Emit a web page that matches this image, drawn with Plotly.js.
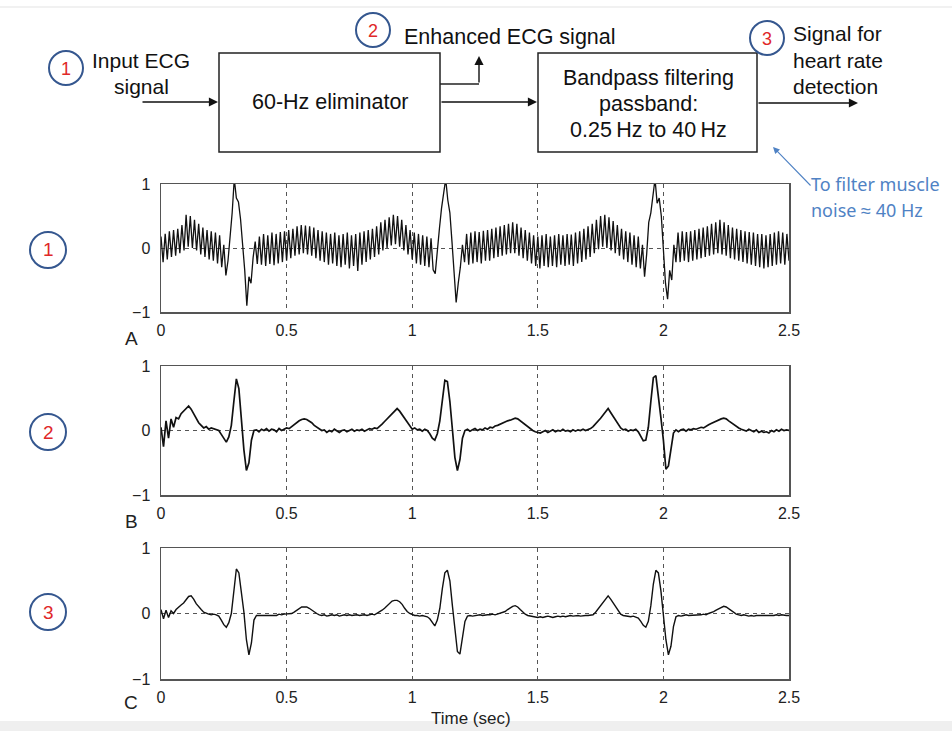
<!DOCTYPE html>
<html><head><meta charset="utf-8">
<script src="https://cdn.plot.ly/plotly-3.0.1.min.js"></script>
<style>html,body{margin:0;padding:0;background:#fff;} #chart{width:952px;height:731px;}</style>
</head><body><div id="chart"></div>
<script>
// ---- tick labels ----
const xTickVals = [0, 0.5, 1, 1.5, 2, 2.5];
const xTickText = ["0", "0.5", "1", "1.5", "2", "2.5"];
const yTickVals = [-1, 0, 1];
const yTickText = ["\u22121", "0", "1"];
const panelLetters = ["A", "B", "C"];
const circleNumbers = ["1", "2", "3"];

// ---- sample periods (sec) ----
const dtA = 1 / 120;
const dtB = 0.01;
const dtC = 0.01;

// ---- A: input ECG signal (with 60 Hz interference) ----
const yA = [
 0.18,-0.22,0.22,-0.18,0.26,-0.14,0.28,-0.12,0.30,-0.08,0.36,-0.04,
 0.52,0.02,0.50,0.00,0.44,-0.04,0.38,-0.10,0.32,-0.14,0.28,-0.18,
 0.26,-0.20,0.24,-0.24,0.20,-0.30,0.05,-0.43,-0.20,0.15,0.55,1.08,
 0.78,0.72,0.45,0.05,-0.35,-0.90,-0.45,-0.55,-0.15,0.10,-0.25,0.18,
 -0.26,0.22,-0.28,0.20,-0.25,0.24,-0.27,0.22,-0.24,0.25,-0.22,0.26,
 -0.20,0.28,-0.16,0.30,-0.12,0.34,-0.10,0.36,-0.08,0.35,-0.10,0.34,
 -0.12,0.32,-0.16,0.28,-0.20,0.26,-0.22,0.24,-0.26,0.22,-0.24,0.24,
 -0.28,0.20,-0.30,0.22,-0.26,0.24,-0.32,0.20,-0.28,0.22,-0.36,0.24,
 -0.26,0.26,-0.22,0.28,-0.18,0.30,-0.14,0.34,-0.10,0.40,-0.04,0.44,
 0.00,0.48,0.04,0.52,0.06,0.50,0.02,0.44,-0.04,0.36,-0.10,0.28,
 -0.18,0.24,-0.24,0.22,-0.26,0.20,-0.28,0.18,-0.30,0.15,-0.34,-0.40,
 -0.10,0.30,0.62,0.85,1.08,0.75,0.55,0.10,-0.35,-0.85,-0.55,-0.30,
 0.05,-0.22,0.22,-0.26,0.24,-0.24,0.26,-0.22,0.25,-0.24,0.27,-0.20,
 0.28,-0.20,0.30,-0.16,0.32,-0.14,0.34,-0.12,0.36,-0.10,0.38,-0.08,
 0.40,-0.08,0.38,-0.12,0.32,-0.16,0.28,-0.20,0.24,-0.24,0.20,-0.28,
 0.18,-0.32,0.20,-0.28,0.22,-0.30,0.18,-0.28,0.20,-0.30,0.22,-0.26,
 0.20,-0.28,0.22,-0.26,0.21,-0.28,0.24,-0.24,0.26,-0.22,0.30,-0.18,
 0.34,-0.14,0.38,-0.08,0.44,-0.02,0.50,0.02,0.52,0.00,0.48,-0.04,
 0.42,-0.08,0.36,-0.12,0.30,-0.18,0.26,-0.22,0.24,-0.26,0.20,-0.30,
 0.18,-0.32,0.05,-0.45,-0.10,0.40,0.55,0.90,1.08,0.70,0.78,0.50,
 0.05,-0.55,-0.80,-0.35,-0.50,0.05,-0.22,0.24,-0.22,0.26,-0.20,0.25,
 -0.22,0.26,-0.20,0.28,-0.18,0.30,-0.16,0.32,-0.14,0.34,-0.12,0.38,
 -0.10,0.40,-0.08,0.44,-0.10,0.40,-0.12,0.36,-0.16,0.32,-0.18,0.30,
 -0.20,0.28,-0.22,0.26,-0.24,0.25,-0.26,0.24,-0.28,0.22,-0.30,0.22,
 -0.32,0.20,-0.30,0.22,-0.28,0.24,-0.26,0.26,-0.24,0.24,-0.26,0.22,-0.20
];

// ---- B: enhanced ECG signal (after 60 Hz eliminator) ----
const yB = [
 0.05,-0.25,0.15,-0.12,0.18,0.05,0.20,0.18,0.26,0.30,
 0.34,0.38,0.33,0.26,0.20,0.12,0.08,0.04,0.06,0.02,
 0.04,0.03,0.02,0.00,-0.06,-0.12,-0.18,-0.10,0.08,0.45,
 0.80,0.65,0.15,-0.30,-0.62,-0.50,-0.15,0.00,0.01,-0.02,
 0.02,0.00,0.03,-0.01,0.02,0.01,-0.02,0.03,0.00,0.02,
 0.04,0.03,0.06,0.10,0.13,0.15,0.17,0.18,0.17,0.15,
 0.12,0.08,0.05,0.03,0.00,0.01,-0.03,0.00,-0.02,0.02,
 -0.01,-0.03,0.00,0.01,-0.02,0.00,0.02,-0.01,0.01,0.00,
 0.02,-0.01,0.01,0.03,0.02,0.04,0.03,0.06,0.10,0.14,
 0.18,0.22,0.26,0.30,0.34,0.30,0.24,0.18,0.12,0.06,
 0.02,0.04,0.01,0.02,-0.01,0.02,0.00,-0.05,-0.12,-0.15,
 -0.05,0.15,0.50,0.78,0.76,0.45,0.02,-0.42,-0.62,-0.45,
 -0.12,0.00,0.02,-0.01,0.01,0.03,0.00,0.02,0.01,0.04,
 0.02,0.05,0.04,0.07,0.08,0.10,0.12,0.13,0.15,0.16,
 0.18,0.19,0.18,0.15,0.12,0.08,0.05,0.02,0.00,-0.02,
 -0.03,-0.04,-0.02,0.00,-0.03,-0.01,0.01,-0.02,0.00,-0.01,
 0.02,-0.01,0.00,-0.02,0.01,-0.01,0.01,0.00,0.02,0.00,
 0.01,0.03,0.06,0.10,0.14,0.19,0.24,0.30,0.34,0.28,
 0.22,0.15,0.09,0.04,0.01,0.02,-0.01,0.01,0.00,0.02,
 -0.02,-0.08,-0.16,-0.15,0.05,0.45,0.82,0.85,0.55,0.20,
 -0.15,-0.60,-0.55,-0.25,-0.04,0.01,-0.02,0.01,0.02,-0.01,
 0.02,0.01,0.03,0.02,0.04,0.05,0.04,0.07,0.09,0.11,
 0.13,0.15,0.16,0.18,0.19,0.18,0.15,0.12,0.09,0.06,
 0.04,0.02,0.01,-0.01,0.02,0.00,-0.02,0.01,-0.03,-0.01,
 -0.03,-0.02,-0.04,0.00,-0.02,0.01,-0.01,0.02,0.00,0.01,
 0.00
];

// ---- C: signal for heart rate detection (after bandpass filter) ----
const yC = [
 0.06,-0.08,0.05,-0.06,0.04,0.00,0.06,0.10,0.13,0.16,
 0.22,0.26,0.27,0.22,0.15,0.10,0.06,0.02,0.00,-0.01,
 -0.02,-0.01,-0.02,-0.04,-0.10,-0.17,-0.21,-0.14,0.00,0.35,
 0.68,0.62,0.30,0.02,-0.40,-0.63,-0.45,-0.10,-0.03,-0.03,
 -0.02,-0.03,-0.02,-0.03,-0.02,-0.02,-0.03,-0.01,-0.02,-0.01,
 -0.01,-0.01,0.00,0.02,0.05,0.08,0.10,0.10,0.10,0.08,
 0.05,0.02,0.00,-0.02,-0.03,-0.02,-0.04,-0.03,-0.02,-0.03,
 -0.02,-0.04,-0.03,-0.02,-0.03,-0.02,-0.03,-0.02,-0.02,-0.03,
 -0.02,-0.02,-0.03,-0.02,-0.01,-0.02,0.00,0.02,0.05,0.08,
 0.12,0.16,0.19,0.20,0.20,0.18,0.14,0.08,0.03,0.00,
 -0.02,-0.03,-0.03,-0.04,-0.03,-0.04,-0.05,-0.08,-0.14,-0.19,
 -0.10,0.08,0.38,0.62,0.66,0.50,0.12,-0.25,-0.58,-0.62,
 -0.38,-0.12,-0.04,-0.03,-0.04,-0.03,-0.03,-0.02,-0.03,-0.02,
 -0.02,-0.02,-0.01,-0.02,-0.01,0.00,0.01,0.03,0.06,0.09,
 0.11,0.12,0.10,0.06,0.02,-0.01,-0.03,-0.04,-0.05,-0.05,
 -0.06,-0.05,-0.06,-0.05,-0.04,-0.05,-0.06,-0.05,-0.04,-0.05,
 -0.04,-0.05,-0.04,-0.03,-0.04,-0.03,-0.03,-0.04,-0.03,-0.03,
 -0.03,-0.02,-0.02,0.02,0.07,0.12,0.18,0.23,0.27,0.22,
 0.16,0.10,0.04,-0.01,-0.03,-0.04,-0.04,-0.05,-0.04,-0.06,
 -0.07,-0.12,-0.18,-0.21,-0.12,0.12,0.45,0.66,0.62,0.35,
 -0.02,-0.40,-0.63,-0.50,-0.20,-0.05,-0.03,-0.04,-0.03,-0.02,
 -0.03,-0.03,-0.02,-0.03,-0.02,-0.02,-0.01,-0.02,0.00,0.01,
 0.03,0.05,0.07,0.09,0.11,0.10,0.07,0.04,0.01,-0.01,
 -0.02,-0.03,-0.02,-0.03,-0.04,-0.03,-0.04,-0.03,-0.03,-0.04,
 -0.03,-0.04,-0.03,-0.04,-0.03,-0.02,-0.03,-0.02,-0.03,-0.03,
 -0.03
];

// ---- diagram texts ----
const inputLabel = ["Input ECG", "signal"];
const eliminatorLabel = "60-Hz eliminator";
const enhancedLabel = "Enhanced ECG signal";
const bandpassLabel = ["Bandpass filtering", "passband:", "0.25\u2009Hz to 40\u2009Hz"];
const outputLabel = ["Signal for", "heart rate", "detection"];
const noteLabel = ["To filter muscle", "noise \u2248 40 Hz"];
const xTitle = "Time (sec)";

// ---------------------------------------------------------------
const W = 952, H = 731;
const px = v => v / W;
const py = v => 1 - v / H;

const tA = yA.map((_, i) => i * dtA);
const tB = yB.map((_, i) => i * dtB);
const tC = yC.map((_, i) => i * dtC);

const tickFont = {family: "Liberation Sans, Arial, sans-serif", size: 16, color: "#222"};
const txtFont = (s, c) => ({family: "Liberation Sans, Arial, sans-serif", size: s, color: c || "#111"});

function xAxis(anchor) {
  return {domain: [px(161), px(789)], anchor: anchor, range: [0, 2.5],
    tickvals: xTickVals, ticktext: xTickText, tickfont: tickFont, ticks: "",
    ticklabelstandoff: 3,
    showgrid: true, gridcolor: "#555", griddash: "4px,4px", gridwidth: 1,
    zeroline: false, showline: true, mirror: true, linecolor: "#555", linewidth: 1.5,
    fixedrange: true};
}
function yAxis(anchor, top, bottom) {
  return {domain: [py(bottom), py(top)], anchor: anchor, range: [-1, 1],
    tickvals: yTickVals, ticktext: yTickText, tickfont: tickFont, ticks: "",
    ticklabelstandoff: 6,
    showgrid: true, gridcolor: "#555", griddash: "4px,4px", gridwidth: 1,
    zeroline: false, showline: true, mirror: true, linecolor: "#555", linewidth: 1.5,
    fixedrange: true};
}

const traces = [
  {x: tA, y: yA, xaxis: "x", yaxis: "y", type: "scatter", mode: "lines",
   line: {color: "#111", width: 1.3}, hoverinfo: "skip"},
  {x: tB, y: yB, xaxis: "x2", yaxis: "y2", type: "scatter", mode: "lines",
   line: {color: "#111", width: 1.7}, hoverinfo: "skip"},
  {x: tC, y: yC, xaxis: "x3", yaxis: "y3", type: "scatter", mode: "lines",
   line: {color: "#111", width: 1.4}, hoverinfo: "skip"}
];

const navy = "#35578f", red = "#e02828", blue = "#4f82c4";
const shapes = [];
function circle(cx, cy, r) {
  shapes.push({type: "circle", xref: "paper", yref: "paper",
    x0: px(cx - r), x1: px(cx + r), y0: py(cy + r), y1: py(cy - r),
    line: {color: navy, width: 2}, fillcolor: "rgba(0,0,0,0)"});
}
function rect(x0, y0, x1, y1) {
  shapes.push({type: "rect", xref: "paper", yref: "paper",
    x0: px(x0), x1: px(x1), y0: py(y1), y1: py(y0),
    line: {color: "#222", width: 1.5}, fillcolor: "rgba(0,0,0,0)"});
}
function seg(x0, y0, x1, y1, c, w) {
  shapes.push({type: "line", xref: "paper", yref: "paper",
    x0: px(x0), x1: px(x1), y0: py(y0), y1: py(y1),
    line: {color: c || "#222", width: w || 1.5}});
}
rect(219, 53, 440, 152);
rect(538, 53, 757, 152);
seg(440, 84, 479, 84);
seg(0, 7, 952, 7, "#ececec", 1.5);
shapes.push({type: "rect", xref: "paper", yref: "paper", x0: 0, x1: 1, y0: 0, y1: py(721),
  line: {width: 0}, fillcolor: "#efefef"});

// left circles and top circles
const leftCircleY = [250, 432, 612];
leftCircleY.forEach(cy => circle(48, cy, 18));
circle(66, 68, 17);
circle(373, 30, 17);
circle(767, 38, 17);

const ann = [];
function text(x, y, t, font, xanchor) {
  ann.push({xref: "paper", yref: "paper", x: px(x), y: py(y), text: t, showarrow: false,
    xanchor: xanchor || "center", yanchor: "middle", font: font});
}
function arrow(hx, hy, tx, ty, c, w, head, size) {
  ann.push({xref: "paper", yref: "paper", x: px(hx), y: py(hy), ax: tx - hx, ay: ty - hy,
    axref: "pixel", ayref: "pixel", text: "", showarrow: true,
    arrowhead: head || 2, arrowsize: size || 1.3, arrowwidth: w || 1.4, arrowcolor: c || "#111"});
}

// circle numbers
leftCircleY.forEach((cy, i) => text(48, cy, circleNumbers[i], txtFont(19, red)));
text(66, 69, circleNumbers[0], txtFont(18, red));
text(373, 31, circleNumbers[1], txtFont(18, red));
text(767, 39, circleNumbers[2], txtFont(18, red));

// panel letters
[338, 521, 702].forEach((yy, i) => text(131, yy, panelLetters[i], txtFont(19, "#222")));

// diagram texts
const dF = txtFont(21);
text(141, 60, inputLabel[0], dF);
text(141, 86, inputLabel[1], dF);
text(330, 102, eliminatorLabel, txtFont(21.5));
text(510, 37, enhancedLabel, txtFont(21.5));
text(648, 78, bandpassLabel[0], txtFont(21.5));
text(648, 104, bandpassLabel[1], txtFont(21.5));
text(648, 130, bandpassLabel[2], txtFont(21.5));
text(791, 34, outputLabel[0], dF, "left");
text(791, 60, outputLabel[1], dF, "left");
text(791, 86, outputLabel[2], dF, "left");
text(809, 184, noteLabel[0], {family: "Noto Sans, sans-serif", size: 18, color: blue}, "left");
text(809, 210, noteLabel[1], {family: "Noto Sans, sans-serif", size: 18, color: blue}, "left");

// arrows
arrow(218, 102, 141, 102);
arrow(479, 56, 479, 84);
arrow(537, 102, 440, 102);
arrow(858, 103, 757, 103);
arrow(773, 147, 812, 187, blue, 1.1, 2, 1.2);

// x title
text(471, 718, xTitle, txtFont(17, "#222"));

const layout = {
  width: W, height: H, margin: {l: 0, r: 0, t: 0, b: 0},
  paper_bgcolor: "#fff", plot_bgcolor: "#fff", showlegend: false,
  xaxis: xAxis("y"), xaxis2: xAxis("y2"), xaxis3: xAxis("y3"),
  yaxis: yAxis("x", 184, 312), yaxis2: yAxis("x2", 366, 495), yaxis3: yAxis("x3", 548, 679),
  shapes: shapes, annotations: ann
};

Plotly.newPlot("chart", traces, layout, {staticPlot: true, displayModeBar: false});
</script>
</body></html>
